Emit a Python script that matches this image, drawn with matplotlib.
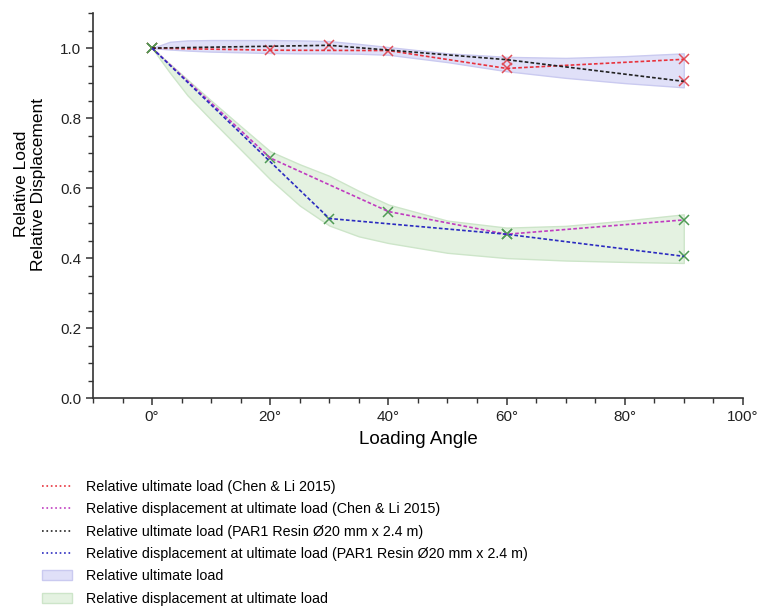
import matplotlib.pyplot as plt
from matplotlib.ticker import MultipleLocator, FuncFormatter
from matplotlib.lines import Line2D
from matplotlib.patches import Patch

plt.rcParams['font.family'] = ['Liberation Sans', 'DejaVu Sans']

# Chen & Li 2015
angle_cl = [0, 20, 40, 60, 90]
load_cl = [1.0, 0.994, 0.993, 0.942, 0.968]
disp_cl = [1.0, 0.686, 0.533, 0.468, 0.509]

# PAR1 Resin 20 mm x 2.4 m
angle_par = [0, 30, 60, 90]
load_par = [1.0, 1.008, 0.967, 0.905]
disp_par = [1.0, 0.513, 0.468, 0.405]

# envelopes
band_angle = [0, 3, 6, 10, 15, 20, 25, 30, 35, 40, 50, 60, 70, 80, 90]
load_hi = [1.0, 1.018, 1.022, 1.023, 1.023, 1.023, 1.022, 1.02, 1.012, 1.003, 0.985, 0.975, 0.972, 0.977, 0.985]
load_lo = [1.0, 0.996, 0.993, 0.99, 0.988, 0.986, 0.985, 0.985, 0.984, 0.981, 0.96, 0.934, 0.915, 0.90, 0.888]
disp_hi = [1.0, 0.955, 0.91, 0.85, 0.777, 0.705, 0.668, 0.635, 0.592, 0.553, 0.507, 0.487, 0.492, 0.507, 0.525]
disp_lo = [1.0, 0.93, 0.865, 0.795, 0.71, 0.625, 0.55, 0.493, 0.462, 0.443, 0.415, 0.40, 0.393, 0.389, 0.386]

labels = ['Relative ultimate load (Chen & Li 2015)',
          'Relative displacement at ultimate load (Chen & Li 2015)',
          'Relative ultimate load (PAR1 Resin Ø20 mm x 2.4 m)',
          'Relative displacement at ultimate load (PAR1 Resin Ø20 mm x 2.4 m)',
          'Relative ultimate load',
          'Relative displacement at ultimate load']

c_red, c_mag, c_blk, c_blu = '#e8323c', '#c03cc0', '#222222', '#2b2bc0'
load_fill, load_edge = '#e0e0f8', '#cacaf0'
disp_fill, disp_edge = '#e4f2e1', '#cde5c9'
dash = (0, (2.2, 1.3))

fig = plt.figure(figsize=(7.6, 6.1), dpi=100)
ax = fig.add_axes([0.1224, 0.3475, 0.855, 0.631])

ax.fill_between(band_angle, load_lo, load_hi, facecolor=load_fill, edgecolor=load_edge, lw=1, zorder=1)
ax.fill_between(band_angle, disp_lo, disp_hi, facecolor=disp_fill, edgecolor=disp_edge, lw=1, zorder=1)

ax.plot(angle_cl, load_cl, ls='none', marker='x', ms=7, mew=1.1, color='#e0505a', zorder=2)
ax.plot(angle_par, load_par, ls='none', marker='x', ms=7, mew=1.1, color='#e0505a', zorder=2)
ax.plot(angle_cl, disp_cl, ls='none', marker='x', ms=7, mew=1.1, color='#4f9a55', zorder=2)
ax.plot(angle_par, disp_par, ls='none', marker='x', ms=7, mew=1.1, color='#4f9a55', zorder=2)

ax.plot(angle_cl, load_cl, ls=dash, lw=1.2, color=c_red, zorder=3)
ax.plot(angle_cl, disp_cl, ls=dash, lw=1.2, color=c_mag, zorder=3)
ax.plot(angle_par, load_par, ls=dash, lw=1.2, color=c_blk, zorder=3)
ax.plot(angle_par, disp_par, ls=dash, lw=1.2, color=c_blu, zorder=3)

ax.set_xlim(-10, 100)
ax.set_ylim(0, 1.1)
ax.xaxis.set_major_locator(MultipleLocator(20))
ax.xaxis.set_minor_locator(MultipleLocator(5))
ax.yaxis.set_major_locator(MultipleLocator(0.2))
ax.yaxis.set_minor_locator(MultipleLocator(0.05))
ax.xaxis.set_major_formatter(FuncFormatter(lambda v, p: '%d°' % v if v >= 0 else ''))
ax.yaxis.set_major_formatter(FuncFormatter(lambda v, p: '%.1f' % v))
for s in ['top', 'right']:
    ax.spines[s].set_visible(False)
for s in ['left', 'bottom']:
    ax.spines[s].set_linewidth(1.2)
    ax.spines[s].set_color('#333333')
ax.tick_params(which='major', direction='out', length=5, width=1.1, labelsize=11, colors='#333333')
ax.tick_params(which='minor', direction='out', length=3.5, width=1, colors='#333333')
ax.tick_params(labelcolor='#222222')

ax.set_xlabel('Loading Angle', fontsize=13.5, labelpad=5)
ax.set_ylabel('Relative Load\nRelative Displacement', fontsize=12.5)
ax.yaxis.set_label_coords(-0.072, 0.556)

handles = [Line2D([], [], ls=':', lw=1.2, color=c_red),
           Line2D([], [], ls=':', lw=1.2, color=c_mag),
           Line2D([], [], ls=':', lw=1.2, color=c_blk),
           Line2D([], [], ls=':', lw=1.2, color=c_blu),
           Patch(facecolor=load_fill, edgecolor=load_edge),
           Patch(facecolor=disp_fill, edgecolor=disp_edge)]
fig.legend(handles, labels, loc='upper left', bbox_to_anchor=(0.055, 0.213),
           frameon=False, fontsize=10.3, borderpad=0, borderaxespad=0,
           handlelength=2.1, handletextpad=1.0, labelspacing=0.58)

fig.savefig('out.png', dpi=100)
